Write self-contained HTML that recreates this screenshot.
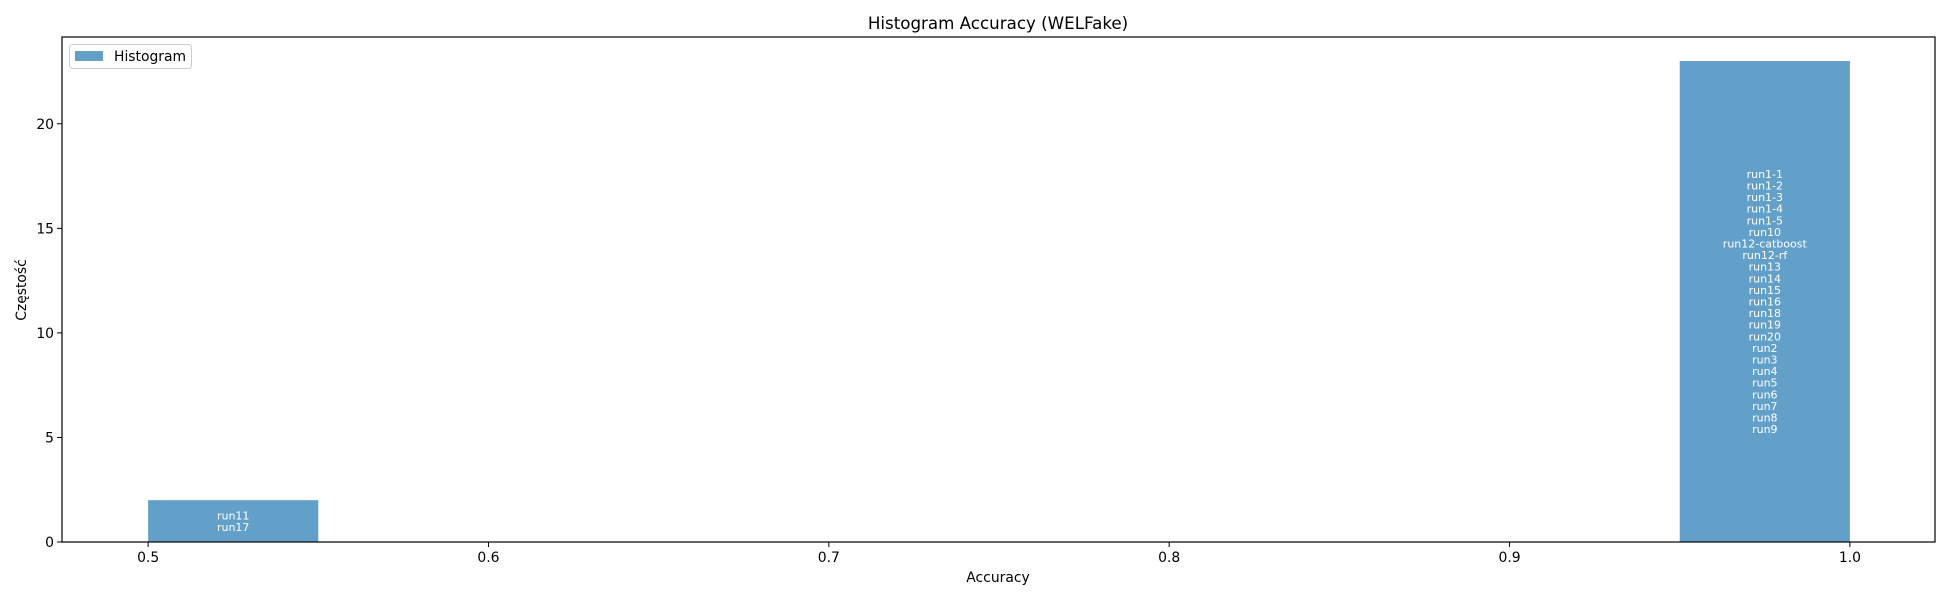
<!DOCTYPE html>
<html><head><meta charset="utf-8"><style>
body{margin:0;background:#fff}
svg{display:block;font-family:"DejaVu Sans","Liberation Sans",sans-serif}
</style></head><body>
<svg id="chart" width="1950" height="600" viewBox="0 0 1950 600">
<rect x="0" y="0" width="1950" height="600" fill="#fff"/>
<text x="998" y="29" font-size="16.7" text-anchor="middle" fill="#000">Histogram Accuracy (WELFake)</text>
<g id="bars"></g>
<g id="axes"></g>
<text x="998" y="582" font-size="13.9" text-anchor="middle" fill="#000">Accuracy</text>
<text x="0" y="0" font-size="13.9" text-anchor="middle" fill="#000" transform="translate(26,290) rotate(-90)">Częstość</text>
<g>
<rect x="69.5" y="44.5" width="122" height="24" rx="3" fill="#fff" fill-opacity="0.8" stroke="#ccc"/>
<rect x="75" y="51" width="28" height="10" fill="#1f77b4" fill-opacity="0.7"/>
<text x="114" y="61" font-size="13.9" fill="#000">Histogram</text>
</g>
</svg>
<script>
const binStarts = [0.5, 0.55, 0.6, 0.65, 0.7, 0.75, 0.8, 0.85, 0.9, 0.95];
const counts = [2, 0, 0, 0, 0, 0, 0, 0, 0, 23];
const binLabels = [
 ["run11","run17"],[],[],[],[],[],[],[],[],
 ["run1-1","run1-2","run1-3","run1-4","run1-5","run10","run12-catboost","run12-rf","run13","run14","run15","run16","run18","run19","run20","run2","run3","run4","run5","run6","run7","run8","run9"]
];
const binWidth = 0.05;
const xTicks = [0.5, 0.6, 0.7, 0.8, 0.9, 1.0];
const xTickLabels = ["0.5","0.6","0.7","0.8","0.9","1.0"];
const yTicks = [0, 5, 10, 15, 20];
const yTickLabels = ["0","5","10","15","20"];

const NS = "http://www.w3.org/2000/svg";
const L = 62, R = 1935, T = 37, B = 542;
const xMin = 0.4747, xMax = 1.025;
const yMax = Math.max(...counts) * 1.05;
const sx = v => L + (v - xMin) / (xMax - xMin) * (R - L);
const sy = v => B - v / yMax * (B - T);
function mk(tag, attrs, parent) {
  const e = document.createElementNS(NS, tag);
  for (const k in attrs) e.setAttribute(k, attrs[k]);
  parent.appendChild(e);
  return e;
}
const bars = document.getElementById('bars');
const axes = document.getElementById('axes');
binStarts.forEach((s, i) => {
  if (counts[i] <= 0) return;
  const r = mk('rect', {x: sx(s), y: sy(counts[i]), width: sx(s + binWidth) - sx(s), height: B - sy(counts[i]), fill: '#1f77b4', 'fill-opacity': 0.7}, bars);
  
  
  const labs = binLabels[i];
  const cx = sx(s + binWidth / 2), cy = sy(counts[i] / 2);
  const lh = 11.6;
  const t = mk('text', {x: cx, 'font-size': 11, fill: '#fff', 'text-anchor': 'middle'}, bars);
  
  
  labs.forEach((lab, j) => {
    const ts = mk('tspan', {x: cx, y: cy - (labs.length - 1) * lh / 2 + j * lh + 4}, t);
    ts.textContent = lab;
  });
});
const frame = mk('rect', {x: L, y: T, width: R - L, height: B - T, fill: 'none', stroke: '#000', 'stroke-width': 1.2}, axes);


xTicks.forEach((v, i) => {
  const x = sx(v);
  const l = mk('line', {x1: x, x2: x, y1: B, y2: B + 5, stroke: '#000'}, axes);
  
  
  const t = mk('text', {x: x, y: B + 20, 'font-size': 13.9, 'text-anchor': 'middle', fill: '#000'}, axes);
  t.textContent = xTickLabels[i];
  
  
});
yTicks.forEach((v, i) => {
  const y = sy(v);
  const l = mk('line', {x1: L - 5, x2: L, y1: y, y2: y, stroke: '#000'}, axes);
  
  
  const t = mk('text', {x: L - 8, y: y + 5, 'font-size': 13.9, 'text-anchor': 'end', fill: '#000'}, axes);
  t.textContent = yTickLabels[i];
  
  
});
</script>
</body></html>
